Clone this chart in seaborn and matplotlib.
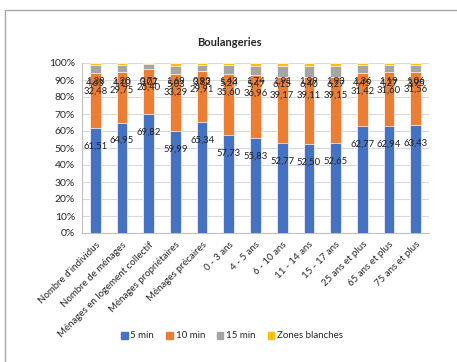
import pandas as pd
import matplotlib.pyplot as plt
import seaborn as sns
import numpy as np
from matplotlib.patches import Patch, Rectangle
from matplotlib.ticker import PercentFormatter


categories = ["Nombre d'individus", "Nombre de ménages", "Ménages en logement collectif",
              "Ménages propriétaires", "Ménages précaires", "0 - 3 ans", "4 - 5 ans",
              "6 - 10 ans", "11 - 14 ans", "15 - 17 ans", "25 ans et plus",
              "65 ans et plus", "75 ans et plus"]
min5 = [61.51, 64.95, 69.82, 59.99, 65.34, 57.73, 55.83, 52.77, 52.50, 52.65, 62.77, 62.94, 63.43]
min10 = [32.48, 29.75, 26.40, 33.29, 29.91, 35.60, 36.96, 39.17, 39.11, 39.15, 31.42, 31.60, 31.56]
min15 = [4.63, 4.10, 3.07, 5.03, 3.82, 5.24, 5.47, 6.15, 6.40, 6.27, 4.45, 4.27, 3.95]
blanches = [1.38, 1.20, 0.71, 1.69, 0.93, 1.43, 1.74, 1.91, 1.99, 1.93, 1.36, 1.19, 1.06]
series = ['5 min', '10 min', '15 min', 'Zones blanches']
colors = ['#4472C4', '#ED7D31', '#A5A5A5', '#FFC000']

sns.set_style('white')
plt.rcParams['font.family'] = ['Lato', 'DejaVu Sans']

df = pd.DataFrame({'cat': categories, '5 min': min5, '10 min': min10,
                   '15 min': min15, 'Zones blanches': blanches})
cum = df[series].cumsum(axis=1)

fig = plt.figure(figsize=(4.57, 3.62), dpi=100)
ax = fig.add_axes([82 / 457, 1 - 233 / 362, (429 - 82) / 457, (233 - 63) / 362])

# chart area border
fig.patches.append(Rectangle((5 / 457, -0.1), 1.2, 1 - 10 / 362 + 0.1, transform=fig.transFigure,
                             fill=False, edgecolor='#A6A6A6', linewidth=1))

# stacked bars: draw cumulative totals from top down
for s, c in reversed(list(zip(series, colors))):
    sns.barplot(x=df['cat'], y=cum[s], color=c, width=0.4, saturation=1,
                edgecolor='white', linewidth=0.5, ax=ax, zorder=3)

# data labels near inside end of each segment
n = len(categories)
for s in series:
    for i in range(n):
        ax.annotate(f"{df[s][i]:.2f}".replace('.', ','), xy=(i, cum[s][i]),
                    xytext=(0, -18), textcoords='offset pixels',
                    ha='center', va='center', fontsize=6.8, color='#222222', zorder=5)

ax.set_xlim(-0.5, n - 0.5)
ax.set_ylim(0, 100)
ax.set_yticks(np.arange(0, 101, 10))
ax.yaxis.set_major_formatter(PercentFormatter(decimals=0))
ax.grid(axis='y', color='#D9D9D9', linewidth=0.8, zorder=0)
ax.set_axisbelow(True)
ax.set_xlabel('')
ax.set_ylabel('')

ax.set_xticks(range(n))
ax.set_xticklabels(categories, rotation=45, ha='right', rotation_mode='anchor', fontsize=7)
ax.set_xticks(np.arange(-0.5, n, 1), minor=True)
ax.tick_params(axis='x', which='major', length=0, pad=5)
ax.tick_params(axis='x', which='minor', length=4, color='#BFBFBF', direction='out')
ax.tick_params(axis='y', length=0, labelsize=7.5, pad=5)

for side in ['top', 'right']:
    ax.spines[side].set_visible(False)
ax.spines['left'].set_color('#BFBFBF')
ax.spines['bottom'].set_color('#BFBFBF')

fig.text(229 / 457, 1 - 42 / 362, 'Boulangeries', ha='center', va='center',
         fontsize=8, fontweight='bold')

handles = [Patch(color=c) for c in colors]
fig.legend(handles, series, loc='center', bbox_to_anchor=(232 / 457, 1 - 336 / 362),
           ncol=4, frameon=False, fontsize=7, handlelength=0.7, handleheight=0.7,
           handletextpad=0.3, columnspacing=1.2)

plt.savefig('out.png', dpi=100)
